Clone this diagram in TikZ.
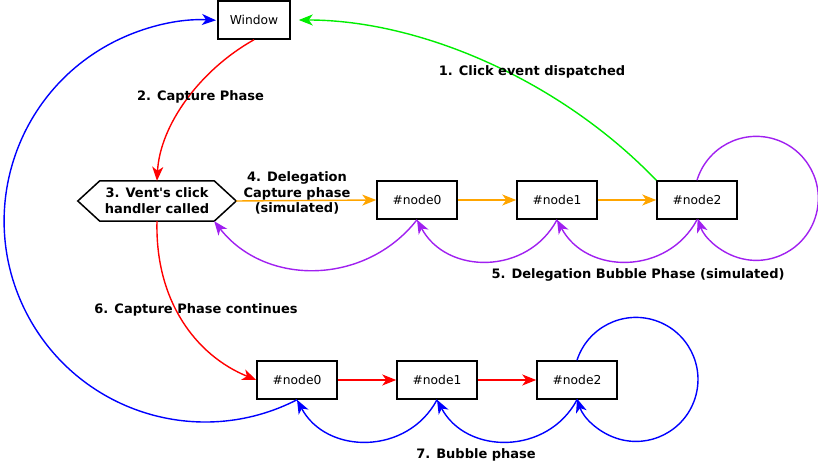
\documentclass[tikz,border=0pt]{standalone}
\usepackage{fontspec}
\setmainfont{DejaVu Sans}[Ligatures=TeXOff]
\usetikzlibrary{arrows.meta}
\definecolor{cgreen}{RGB}{0,238,0}
\definecolor{cred}{RGB}{255,0,0}
\definecolor{corange}{RGB}{255,165,0}
\definecolor{cpurple}{RGB}{160,32,240}
\definecolor{cblue}{RGB}{0,0,255}
\begin{document}
\begin{tikzpicture}[x=1pt,y=1pt,
  box/.style={draw=black,line width=1.5pt,minimum width=80pt,minimum height=38pt,inner sep=0pt,font=\fontsize{12.3}{14}\selectfont},
  hexin/.style={minimum width=114pt,minimum height=40pt,inner sep=0pt,align=center,font=\bfseries\fontsize{13}{16}\selectfont},
  lbl/.style={align=center,font=\bfseries\fontsize{13}{15.5}\selectfont},
  edge/.style={line width=1.4pt,-{Stealth[length=14pt,width=11pt,inset=4pt]}},
  plain/.style={line width=1.4pt}]
\useasboundingbox (0,0) rectangle (818,462);
% nodes
\node[box,minimum width=72pt] (win) at (254,442) {Window};
\node[hexin] (hex) at (157,261) {3. Vent's click\\handler called};
\coordinate (hexR) at ([xshift=22pt]hex.east);
\coordinate (hexL) at ([xshift=-22pt]hex.west);
\draw[line width=1.5pt,line join=miter] (hex.north west) -- (hex.north east) -- (hexR) -- (hex.south east) -- (hex.south west) -- (hexL) -- cycle;
\node[box] (t0) at (417,262) {\#node0};
\node[box] (t1) at (557,262) {\#node1};
\node[box] (t2) at (697,262) {\#node2};
\node[box] (b0) at (297,82) {\#node0};
\node[box] (b1) at (437,82) {\#node1};
\node[box] (b2) at (577,82) {\#node2};
% edges
\draw[edge,cgreen,shorten >=8pt] (t2.north west) .. controls (560,382) and (420,442) .. (win.east);
\draw[edge,cred] (win.south) .. controls (200,392) and (160,337) .. (hex.north);
\draw[edge,corange] (hexR) -- (t0.west);
\draw[edge,corange] (t0.east) -- (t1.west);
\draw[edge,corange] (t1.east) -- (t2.west);
\draw[edge,cpurple] (t0.south) to[out=-128,in=-52,looseness=1.05] (hex.south east);
\draw[edge,cpurple] (t1.south) to[out=-118,in=-62,looseness=1.15] (t0.south);
\draw[edge,cpurple] (t2.south) to[out=-118,in=-62,looseness=1.15] (t1.south);
\draw[edge,cpurple] (t2.north) arc[start angle=163,end angle=-161,radius=62pt];
\draw[edge,cred] (hex.south) .. controls (155,162) and (195,107) .. (b0.west);
\draw[edge,cred] (b0.east) -- (b1.west);
\draw[edge,cred] (b1.east) -- (b2.west);
\draw[edge,cblue] (b1.south) to[out=-118,in=-62,looseness=1.15] (b0.south);
\draw[edge,cblue] (b2.south) to[out=-118,in=-62,looseness=1.15] (b1.south);
\draw[edge,cblue] (b2.north) arc[start angle=162,end angle=-162,radius=62pt];
\draw[edge,cblue] (b0.south) arc[start angle=-62.8,end angle=-273.1,radius=201pt];
% labels
\node[lbl] (l1) at (532,390) {1. Click event dispatched};
\node[lbl] (l2) at (200.5,365) {2. Capture Phase};
\node[lbl] (l4) at (297,269) {4. Delegation\\Capture phase\\(simulated)};
\node[lbl] (l5) at (638,187) {5. Delegation Bubble Phase (simulated)};
\node[lbl] (l6) at (196,152) {6. Capture Phase continues};
\node[lbl] (l7) at (476,7) {7. Bubble phase};
\end{tikzpicture}
\end{document}
